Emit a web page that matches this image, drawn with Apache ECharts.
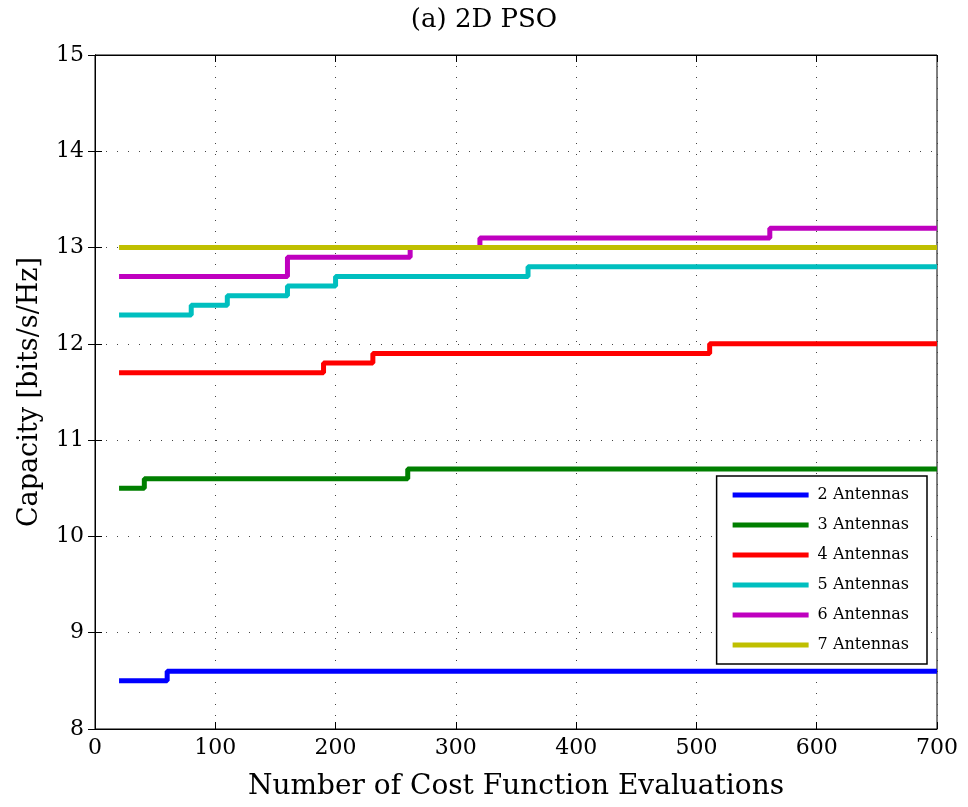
<!DOCTYPE html>
<html><head><meta charset="utf-8">
<script src="https://cdn.jsdelivr.net/npm/echarts@6/dist/echarts.min.js"></script>
<style>html,body{margin:0;padding:0;background:#fff}#c{width:968px;height:807px}</style>
</head><body><div id="c"></div>
<script>
const seriesNames = ['2 Antennas','3 Antennas','4 Antennas','5 Antennas','6 Antennas','7 Antennas'];
const colors = ['#0000ff','#007f00','#ff0000','#00bfbf','#bf00bf','#bfbf00'];
// step change points (x = evaluations, y = capacity)
const x2 = [20, 60, 700];            const y2 = [8.5, 8.6, 8.6];
const x3 = [20, 41, 260, 700];       const y3 = [10.5, 10.6, 10.7, 10.7];
const x4 = [20, 190, 231, 511, 700]; const y4 = [11.7, 11.8, 11.9, 12.0, 12.0];
const x5 = [20, 80, 110, 160, 200, 360, 700]; const y5 = [12.3, 12.4, 12.5, 12.6, 12.7, 12.8, 12.8];
const x6 = [20, 160, 262, 320, 561, 700]; const y6 = [12.7, 12.9, 13.0, 13.1, 13.2, 13.2];
const x7 = [20, 700];                const y7 = [13.0, 13.0];
const xTicks = [0,100,200,300,400,500,600,700];
const yTicks = [8,9,10,11,12,13,14,15];

const xs = [x2,x3,x4,x5,x6,x7], ys = [y2,y3,y4,y5,y6,y7];
const font = 'DejaVu Serif';
const dotted = {show:true, lineStyle:{color:'#444', width:1, type:[1,10]}};
const chart = echarts.init(document.getElementById('c'));
chart.setOption({
  animation:false,
  title:{text:'(a) 2D PSO', left:'center', top:2, textStyle:{fontFamily:font, fontWeight:'normal', fontSize:26, color:'#000'}},
  grid:{left:95, right:31, top:55, bottom:78, show:true, borderColor:'#000', borderWidth:1},
  legend:{
    orient:'vertical', right:41, top:476,
    data:seriesNames, icon:'rect', itemWidth:76, itemHeight:5, itemGap:14,
    padding:[11,18,11,16], borderColor:'#000', borderWidth:1.5, backgroundColor:'#fff',
    textStyle:{fontFamily:font, fontSize:16, color:'#000', lineHeight:16, padding:[0,0,0,4]}
  },
  xAxis:[{
    type:'value', min:0, max:700, interval:100, position:'bottom',
    name:'Number of Cost Function Evaluations', nameLocation:'middle', nameGap:44,
    nameTextStyle:{fontFamily:font, fontSize:28, color:'#000'},
    axisLine:{show:true, lineStyle:{color:'#000'}},
    axisTick:{show:true, inside:true, length:7, lineStyle:{color:'#000'}},
    axisLabel:{fontFamily:font, fontSize:22, color:'#000', margin:8, formatter:v=>xTicks.includes(v)?String(v):''},
    splitLine:dotted
  },{
    type:'value', min:0, max:700, interval:100, position:'top',
    axisLine:{show:true, lineStyle:{color:'#000'}},
    axisTick:{show:true, inside:true, length:7, lineStyle:{color:'#000'}},
    axisLabel:{show:false}, splitLine:{show:false}
  }],
  yAxis:[{
    type:'value', min:8, max:15, interval:1, position:'left',
    name:'Capacity [bits/s/Hz]', nameLocation:'middle', nameGap:52,
    nameTextStyle:{fontFamily:font, fontSize:27, color:'#000'},
    axisLine:{show:true, lineStyle:{color:'#000'}},
    axisTick:{show:true, inside:true, length:7, lineStyle:{color:'#000'}},
    axisLabel:{fontFamily:font, fontSize:22, color:'#000', margin:11, formatter:v=>yTicks.includes(v)?String(v):''},
    splitLine:dotted
  },{
    type:'value', min:8, max:15, interval:1, position:'right',
    axisLine:{show:true, lineStyle:{color:'#000'}},
    axisTick:{show:true, inside:true, length:7, lineStyle:{color:'#000'}},
    axisLabel:{show:false}, splitLine:{show:false}
  }],
  series: seriesNames.map((n,i)=>({
    name:n, type:'line', step:'end', showSymbol:false, symbol:'none',
    color:colors[i], lineStyle:{width:5, color:colors[i]},
    data: xs[i].map((x,j)=>[x, ys[i][j]])
  }))
});
</script></body></html>
